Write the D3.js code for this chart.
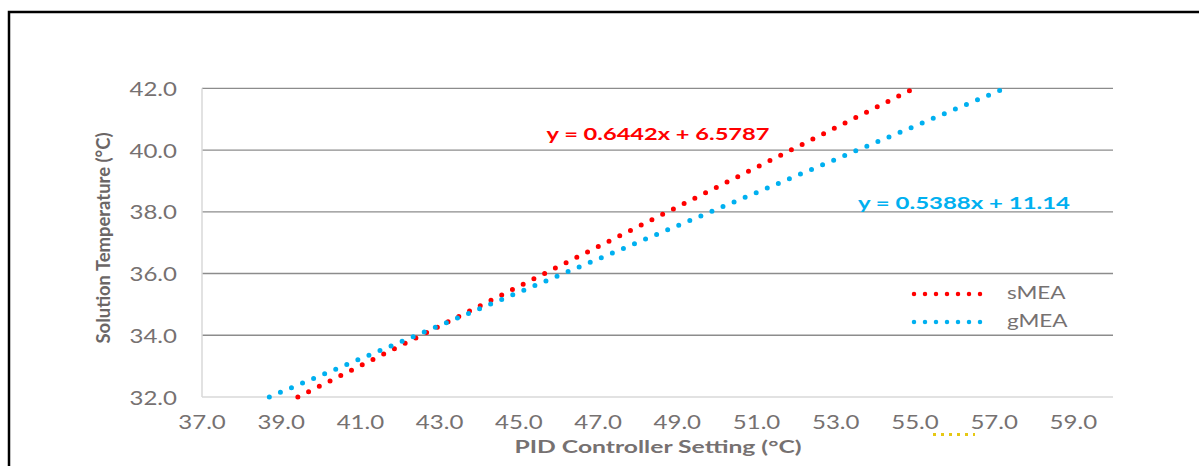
<!DOCTYPE html>
<html>
<head>
<meta charset="utf-8">
<script src="https://cdn.jsdelivr.net/npm/d3@7"></script>
<style>
  body { margin: 0; background: #fff; }
  text { font-family: Lato, "Open Sans", sans-serif; fill: #767171; }
</style>
</head>
<body>
<div id="chart"></div>
<script>
// tick values
const xTicks = [37, 39, 41, 43, 45, 47, 49, 51, 53, 55, 57, 59];
const yTicks = [32, 34, 36, 38, 40, 42];

// series names and trendline end points (x = PID setting, y = solution temp)
const seriesNames = ["sMEA", "gMEA"];
const sMEAx = [39.42, 54.98];
const sMEAy = [32.0, 42.0];
const gMEAx = [38.7, 57.27];
const gMEAy = [32.0, 42.0];
const equations = ["y = 0.6442x + 6.5787", "y = 0.5388x + 11.14"];
const colors = ["#ff0000", "#00b0f0"];

const width = 1199, height = 466;

const svg = d3.select("#chart").append("svg")
    .attr("width", width)
    .attr("height", height);

// frame around the picture
svg.append("path")
    .attr("d", "M9,466V12H1199")
    .attr("fill", "none")
    .attr("stroke", "#000")
    .attr("stroke-width", 2.5);

// scales
const x = d3.scaleLinear().domain([37, 60]).range([202, 1113]);
const y = d3.scaleLinear().domain([32, 42]).range([397, 88.3]);

// stretch text horizontally (the source picture is widened)
function stretch(sel, k) {
    sel.each(function() {
        const w = this.getComputedTextLength();
        d3.select(this).attr("textLength", w * k).attr("lengthAdjust", "spacingAndGlyphs");
    });
}

// gridlines
svg.append("g")
    .selectAll("line")
    .data(yTicks.filter(d => d > 32))
    .enter()
    .append("line")
    .attr("x1", x(37))
    .attr("x2", x(60))
    .attr("y1", d => y(d))
    .attr("y2", d => y(d))
    .attr("stroke", "#8c8c8c")
    .attr("stroke-width", 1.3);

// axis lines
svg.append("line")
    .attr("x1", x(37)).attr("x2", x(60))
    .attr("y1", y(32)).attr("y2", y(32))
    .attr("stroke", "#d9d9d9").attr("stroke-width", 1.5);
svg.append("line")
    .attr("x1", x(37)).attr("x2", x(37))
    .attr("y1", y(32)).attr("y2", y(42))
    .attr("stroke", "#d9d9d9").attr("stroke-width", 1.5);

// y tick labels
svg.append("g")
    .selectAll("text")
    .data(yTicks)
    .enter()
    .append("text")
    .attr("x", 177)
    .attr("y", d => y(d) + 7.5)
    .attr("text-anchor", "end")
    .attr("font-size", 18.5)
    .text(d => d.toFixed(1))
    .call(stretch, 1.3);

// x tick labels
svg.append("g")
    .selectAll("text")
    .data(xTicks)
    .enter()
    .append("text")
    .attr("x", d => x(d))
    .attr("y", 429)
    .attr("text-anchor", "middle")
    .attr("font-size", 18.5)
    .text(d => d.toFixed(1))
    .call(stretch, 1.3);

// axis titles
svg.append("text")
    .attr("transform", "translate(110,238) rotate(-90)")
    .attr("text-anchor", "middle")
    .attr("font-size", 18)
    .attr("font-weight", 700)
    .attr("textLength", 211)
    .attr("lengthAdjust", "spacingAndGlyphs")
    .style("fill", "#6b6666")
    .text("Solution Temperature (°C)");

svg.append("text")
    .attr("x", 658)
    .attr("y", 453)
    .attr("text-anchor", "middle")
    .attr("font-size", 16.5)
    .attr("font-weight", 700)
    .attr("textLength", 287)
    .attr("lengthAdjust", "spacingAndGlyphs")
    .text("PID Controller Setting (°C)");

// trendlines (dotted)
const line = d3.line().x(d => x(d[0])).y(d => y(d[1]));
const seriesData = [
    d3.zip(sMEAx, sMEAy),
    d3.zip(gMEAx, gMEAy)
];

svg.append("g")
    .selectAll("path")
    .data(seriesData)
    .enter()
    .append("path")
    .attr("d", line)
    .attr("fill", "none")
    .attr("stroke", (d, i) => colors[i])
    .attr("stroke-width", 5)
    .attr("stroke-linecap", "round")
    .attr("stroke-dasharray", "0 12");

// equation labels
const eqPos = [[658, 140, 223], [964, 209, 212]];
svg.append("g")
    .selectAll("text")
    .data(equations)
    .enter()
    .append("text")
    .attr("x", (d, i) => eqPos[i][0])
    .attr("y", (d, i) => eqPos[i][1])
    .attr("text-anchor", "middle")
    .attr("font-size", 17)
    .attr("font-weight", 700)
    .attr("textLength", (d, i) => eqPos[i][2])
    .attr("lengthAdjust", "spacingAndGlyphs")
    .style("fill", (d, i) => colors[i])
    .text(d => d);

// legend
const legend = svg.append("g")
    .selectAll("g")
    .data(seriesNames)
    .enter()
    .append("g")
    .attr("transform", (d, i) => "translate(0," + (294 + i * 28) + ")");

legend.append("line")
    .attr("x1", 914).attr("x2", 986)
    .attr("y1", 0).attr("y2", 0)
    .attr("stroke", (d, i) => colors[i])
    .attr("stroke-width", 4.5)
    .attr("stroke-linecap", "round")
    .attr("stroke-dasharray", "0 11");

legend.append("text")
    .attr("x", 1007)
    .attr("y", 5)
    .attr("font-size", 18)
    .text(d => d)
    .call(stretch, 1.25);

// stray yellow dotted mark under the axis
svg.append("line")
    .attr("x1", 933).attr("x2", 975)
    .attr("y1", 434.5).attr("y2", 434.5)
    .attr("stroke", "#e6c814")
    .attr("stroke-width", 3)
    .attr("stroke-dasharray", "3 5");
</script>
</body>
</html>
